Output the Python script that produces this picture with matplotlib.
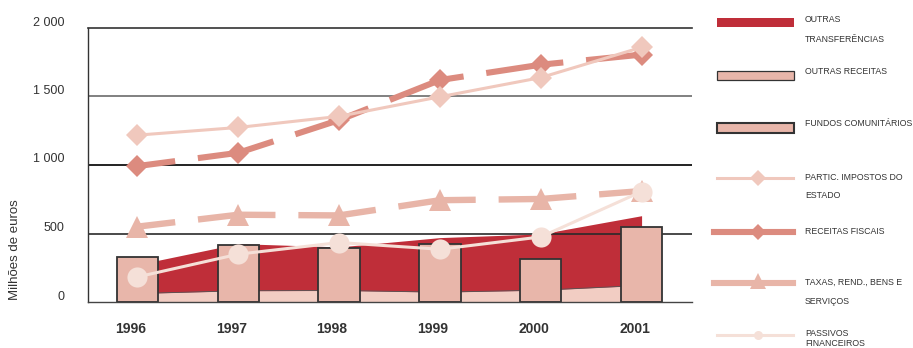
import numpy as np
import matplotlib
matplotlib.use("Agg")
import matplotlib.pyplot as plt
import matplotlib.transforms as mtransforms
from matplotlib.patches import Rectangle
from matplotlib.lines import Line2D

plt.rcParams['font.family'] = ['Liberation Sans', 'DejaVu Sans']
plt.rcParams['lines.scale_dashes'] = False

# data (milhões de euros)
years = ['1996', '1997', '1998', '1999', '2000', '2001']
outras_receitas = [62, 82, 84, 72, 86, 121]
outras_transf = [211, 344, 318, 398, 411, 509]
fundos = [328, 414, 394, 426, 314, 548]
partic = [1218, 1274, 1355, 1498, 1638, 1859]
receitas_fiscais = [992, 1089, 1328, 1620, 1732, 1806]
taxas = [550, 637, 632, 743, 752, 810]
passivos = [183, 349, 434, 385, 475, 806]

c_red = '#bf2e39'
c_bar = '#e8b6aa'
c_low = '#f2cdc3'
c_partic = '#f0c8bd'
c_fisc = '#dc8b7f'
c_taxas = '#e8b5a8'
c_pass = '#f5e0d8'
c_txt = '#333333'

fig = plt.figure(figsize=(9.13, 3.48), dpi=100)
ax = fig.add_axes([88/913, 46/348, 604/913, 274/348])

x = np.arange(len(years))
low = np.array(outras_receitas)
top = low + np.array(outras_transf)

# stacked areas
ax.fill_between(x, 0, low, color=c_low, lw=0, zorder=1)
ax.plot(x, low, color='#555555', lw=0.6, zorder=1.1)
ax.fill_between(x, low, top, color=c_red, lw=0, zorder=1)

# grid lines
ax.axhline(500, color='#2a2a2a', lw=1.2, zorder=1.5)
ax.axhline(1000, color='#222222', lw=1.4, zorder=0.5)
ax.axhline(1500, color='#808080', lw=1.4, zorder=0.5)

# bars
ax.bar(x, fundos, width=0.41, color=c_bar, edgecolor='#333333', lw=1.3, zorder=2)

# lines
dash = (28.6, (56, 16.5))
ax.plot(x, receitas_fiscais, color=c_fisc, lw=4.4, linestyle=dash,
        dash_capstyle='butt', marker='D', ms=11, mew=0, zorder=3)
ax.plot(x, partic, color=c_partic, lw=2.2, marker='D', ms=11, mew=0, zorder=4)
ax.plot(x, taxas, color=c_taxas, lw=4.6, linestyle=dash,
        dash_capstyle='butt', marker='^', ms=15.5, mew=0, zorder=4)
ax.plot(x, passivos, color=c_pass, lw=2.2, marker='o', ms=14.5, mew=0, zorder=5)

ax.set_xlim(-0.49, 5.5)
ax.set_ylim(0, 2000)
ax.set_yticks([0, 500, 1000, 1500, 2000])
ax.set_yticklabels(['0', '500', '1 000', '1 500', '2 000'], fontsize=9, color=c_txt)
ax.set_xticks(x)
ax.set_xticklabels(years, fontsize=10, fontweight='bold', color=c_txt)
ax.tick_params(axis='y', length=0, pad=17)
ax.tick_params(axis='x', length=0, pad=14.5)
for lab in ax.get_yticklabels():
    lab.set_transform(lab.get_transform() + mtransforms.ScaledTranslation(0, 7/100, fig.dpi_scale_trans))
for lab in ax.get_xticklabels():
    lab.set_transform(lab.get_transform() + mtransforms.ScaledTranslation(-7/100, 0, fig.dpi_scale_trans))

ax.spines['right'].set_visible(False)
ax.spines['top'].set_color('#333333')
ax.spines['left'].set_color('#333333')
ax.spines['bottom'].set_color('#444444')
ax.spines['top'].set_linewidth(1.2)
ax.spines['left'].set_linewidth(1.0)
ax.spines['bottom'].set_linewidth(1.0)

fig.text(15/913, 1 - 250/348, 'Milhões de euros', rotation=90, ha='center', va='center',
         fontsize=9.5, color=c_txt)

# legend drawn in pixel coordinates
lg = fig.add_axes([0, 0, 1, 1], facecolor='none')
lg.set_xlim(0, 913)
lg.set_ylim(348, 0)
lg.axis('off')

lg.add_patch(Rectangle((717, 18), 77, 9, color=c_red, lw=0))
lg.add_patch(Rectangle((717, 70.5), 77, 9.5, facecolor=c_bar, edgecolor='#333333', lw=0.9))
lg.add_patch(Rectangle((717, 123), 77, 9.5, facecolor=c_bar, edgecolor='#333333', lw=1.5))
lg.add_line(Line2D([717, 793], [178, 178], color=c_partic, lw=2.2))
lg.plot([758], [178], marker='D', ms=8, color=c_partic, mew=0)
lg.add_line(Line2D([714, 793], [231.5, 231.5], color=c_fisc, lw=4.4))
lg.plot([758], [231.5], marker='D', ms=8, color=c_fisc, mew=0)
lg.add_line(Line2D([714, 793], [282.5, 282.5], color=c_taxas, lw=4.4))
lg.plot([758], [281], marker='^', ms=12, color=c_taxas, mew=0)
lg.add_line(Line2D([717, 793], [335, 335], color=c_pass, lw=2.2))
lg.plot([758], [335], marker='o', ms=6.5, color=c_pass, mew=0)

leg_lines = [('OUTRAS', 20), ('TRANSFERÊNCIAS', 39), ('OUTRAS RECEITAS', 72),
             ('FUNDOS COMUNITÁRIOS', 124), ('PARTIC. IMPOSTOS DO', 177), ('ESTADO', 196),
             ('RECEITAS FISCAIS', 231), ('TAXAS, REND., BENS E', 282), ('SERVIÇOS', 301),
             ('PASSIVOS', 334), ('FINANCEIROS', 344)]
for txt, yy in leg_lines:
    lg.text(805, yy, txt, fontsize=6.3, color=c_txt, ha='left', va='center')

fig.savefig('out.png', dpi=100)
